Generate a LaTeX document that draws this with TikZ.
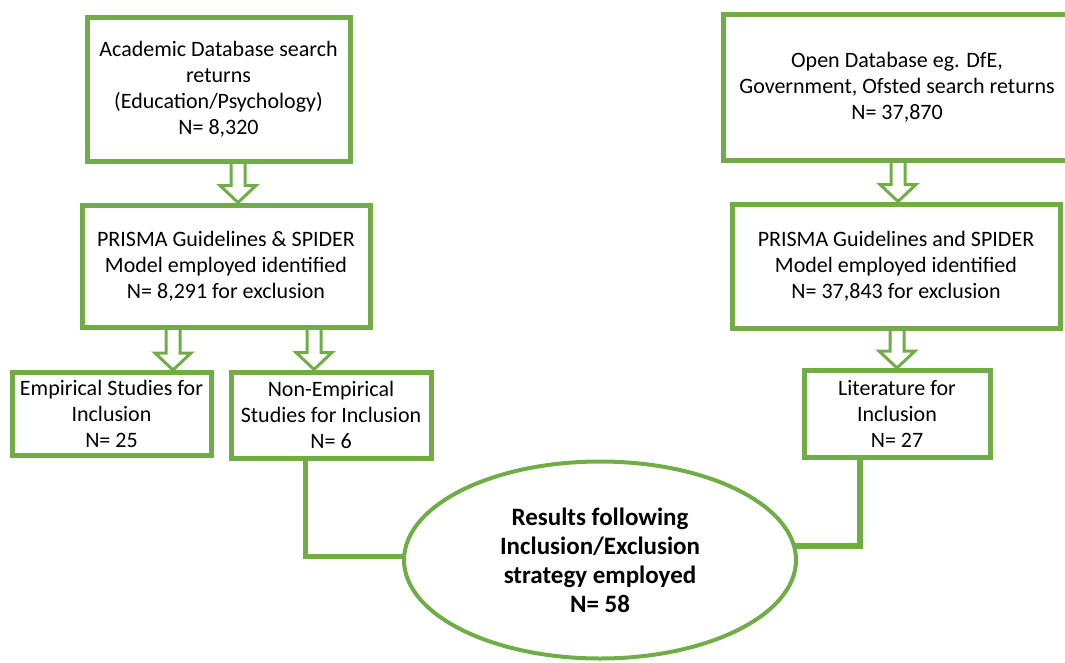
\documentclass[tikz,border=0pt]{standalone}
\usepackage{fontspec}
\setmainfont{Carlito}
\usetikzlibrary{shapes.geometric,calc,backgrounds}
\definecolor{boxgreen}{RGB}{112,173,71}

% hohler Blockpfeil: x, von, nach
\newcommand{\blockpfeil}[3]{%
  \draw[hollow] let \p1=(#2.south), \p2=(#3.north) in
    (#1-7,\y1+4) -- (#1+7,\y1+4) -- (#1+7,\y2+17) -- (#1+18,\y2+17) -- (#1,\y2)
    -- (#1-18,\y2+17) -- (#1-7,\y2+17) -- cycle;}

\begin{document}
\begin{tikzpicture}[x=1pt,y=-1pt,font=\fontsize{22}{26}\selectfont,
  box/.style={draw=boxgreen,line width=5pt,fill=white,align=center,inner sep=0pt},
  hollow/.style={draw=boxgreen,line width=3pt,fill=white,line join=miter},
  link/.style={draw=boxgreen,line width=5pt}]
  \useasboundingbox (0,0) rectangle (1065,662);
  \clip (0,0) rectangle (1065,662);

  % Kaesten links
  \node[box,minimum width=263,minimum height=144] (acad) at (218.5,89)
    {Academic Database search\\returns\\(Education/Psychology)\\N= 8,320};
  \node[box,minimum width=288,minimum height=122] (prismaL) at (226,266)
    {PRISMA Guidelines \& SPIDER\\Model employed identified\\N= 8,291 for exclusion};
  \node[box,minimum width=199,minimum height=83] (emp) at (111.5,414)
    {Empirical Studies for\\Inclusion\\N= 25};
  \node[box,minimum width=200,minimum height=86] (nonemp) at (331,415)
    {Non-Empirical\\Studies for Inclusion\\N= 6};

  % Kaesten rechts
  \node[box,minimum width=348,minimum height=146] (open) at (897,87)
    {Open Database eg. DfE,\\Government, Ofsted search returns\\N= 37,870};
  \node[box,minimum width=328,minimum height=124] (prismaR) at (896,266)
    {PRISMA Guidelines and SPIDER\\Model employed identified\\N= 37,843 for exclusion};
  \node[box,minimum width=186,minimum height=87] (lit) at (897,414)
    {Literature for\\Inclusion\\N= 27};

  % Ergebnis
  \node[ellipse,draw=boxgreen,line width=4pt,fill=white,align=center,inner sep=0pt,
    minimum width=392,minimum height=197,font=\fontsize{25}{29}\selectfont\bfseries]
    (result) at (600,560)
    {Results following\\Inclusion/Exclusion\\strategy employed\\N= 58};

  \begin{scope}[on background layer]
    % Blockpfeile
    \blockpfeil{238}{acad}{prismaL}
    \blockpfeil{173}{prismaL}{emp}
    \blockpfeil{314}{prismaL}{nonemp}
    \blockpfeil{898}{open}{prismaR}
    \blockpfeil{897}{prismaR}{lit}

    % Verbindungen zum Ergebnis
    \coordinate (lknick) at (305,556);
    \coordinate (rknick) at (860,546);
    \draw[link] (nonemp.south -| lknick) -- (lknick) -- (lknick -| result.center);
    \draw[link,line width=6pt] (lit.south -| rknick) -- (rknick) -- (rknick -| result.center);
  \end{scope}
\end{tikzpicture}
\end{document}
